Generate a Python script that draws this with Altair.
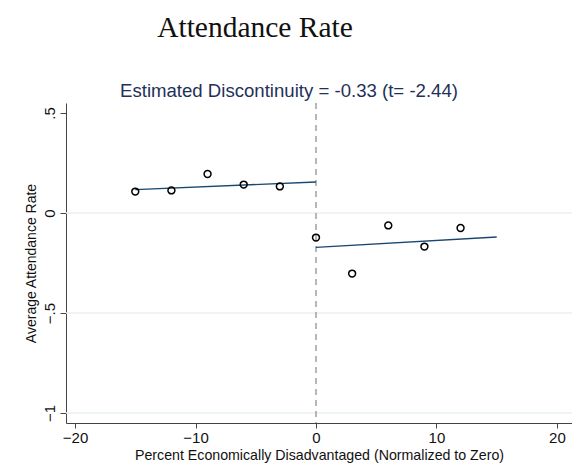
import altair as alt
import pandas as pd

# Binned means of attendance rate by normalized share of disadvantaged students
bin_x = [-15, -12, -9, -6, -3, 0, 3, 6, 9, 12]
bin_y = [0.107, 0.113, 0.195, 0.142, 0.133, -0.123, -0.303, -0.062, -0.168, -0.075]

# Fitted linear segments on each side of the cutoff
fit_side = ["left", "left", "right", "right"]
fit_x = [-15, 0, 0, 15]
fit_y = [0.117, 0.155, -0.172, -0.120]

grid_y = [0, -0.5, -1]

points = pd.DataFrame({"x": bin_x, "y": bin_y})
fits = pd.DataFrame({"side": fit_side, "x": fit_x, "y": fit_y})
grid = pd.DataFrame({"y": grid_y})
cutoff = pd.DataFrame({"x": [0]})

FONT = "Liberation Sans"
NAVY = "#1a476f"

xscale = alt.Scale(domain=[-20.75, 21.25], nice=False, zero=False)
yscale = alt.Scale(domain=[-1.05, 0.55], nice=False, zero=False)

x_axis = alt.Axis(
    values=[-20, -10, 0, 10, 20], title="Percent Economically Disadvantaged (Normalized to Zero)",
    grid=False, domainColor="#444", tickColor="#444", tickSize=5,
    labelFont=FONT, labelFontSize=15, labelColor="#111", labelPadding=2,
    titleFont=FONT, titleFontSize=14.2, titleFontWeight="normal", titleColor="#111", titlePadding=3,
)
y_axis = alt.Axis(
    values=[-1, -0.5, 0, 0.5], title="Average Attendance Rate",
    labelExpr="replace(format(datum.value, '~g'), '0.', '.')",
    grid=False, domainColor="#444", tickColor="#444", tickSize=6,
    labelAngle=-90, labelAlign="center", labelBaseline="bottom", labelPadding=3,
    labelFont=FONT, labelFontSize=15, labelColor="#111",
    titleFont=FONT, titleFontSize=14, titleFontWeight="normal", titleColor="#111", titlePadding=4,
)

gridlines = alt.Chart(grid).mark_rule(color="#eaf2f3", strokeWidth=1.5).encode(
    y=alt.Y("y:Q", scale=yscale, axis=y_axis)
)

cut = alt.Chart(cutoff).mark_rule(color="#888", strokeWidth=1.2, strokeDash=[6, 5]).encode(
    x=alt.X("x:Q", scale=xscale, axis=x_axis)
)

lines = alt.Chart(fits).mark_line(color=NAVY, strokeWidth=1.3).encode(
    x=alt.X("x:Q", scale=xscale), y=alt.Y("y:Q", scale=yscale), detail="side:N"
)

dots = alt.Chart(points).mark_point(
    shape="circle", filled=False, color="black", size=48, strokeWidth=1.5, opacity=1
).encode(x=alt.X("x:Q", scale=xscale), y=alt.Y("y:Q", scale=yscale))

title = alt.Chart(pd.DataFrame({"t": ["Attendance Rate"]})).mark_text(
    font="Liberation Serif", fontSize=29.5, color="#111", align="center", baseline="alphabetic"
).encode(x=alt.value(189), y=alt.value(-66), text="t:N")

subtitle = alt.Chart(pd.DataFrame({"t": ["Estimated Discontinuity = -0.33 (t= -2.44)"]})).mark_text(
    font=FONT, fontSize=18.6, color="#1f3158", align="center", baseline="alphabetic"
).encode(x=alt.value(223), y=alt.value(-6), text="t:N")

chart = alt.layer(gridlines, cut, lines, dots, title, subtitle).properties(
    width=506, height=320,
    autosize=alt.AutoSizeParams(type="none"),
    padding={"left": 66, "top": 103, "right": 0, "bottom": 49},
    background="white",
).configure_view(stroke=None)

chart.save("out.html", embed_options={"renderer": "svg", "actions": False})
